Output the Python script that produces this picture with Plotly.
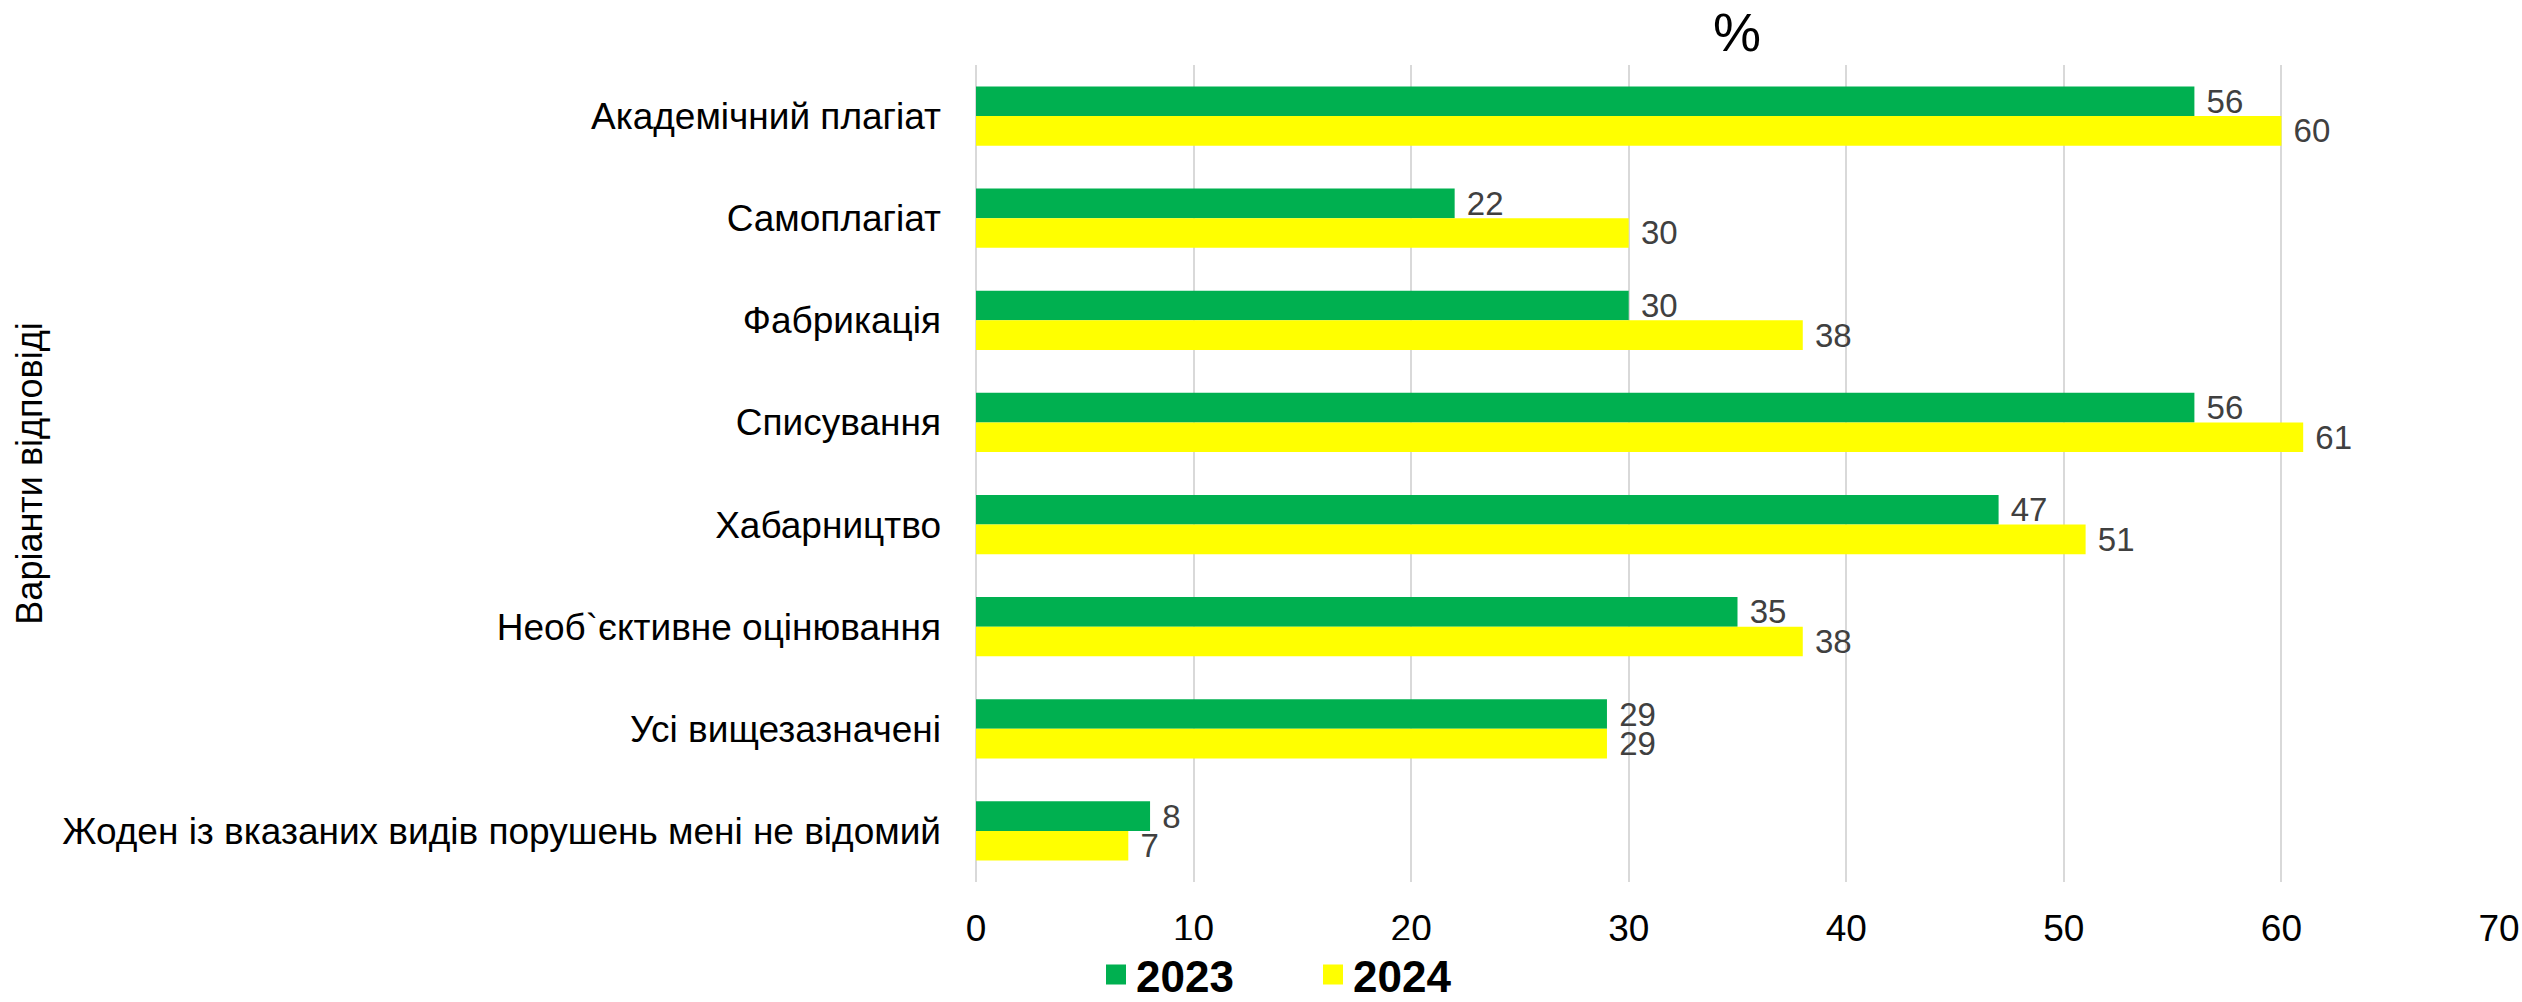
import plotly.graph_objects as go

categories = [
    "Академічний плагіат",
    "Самоплагіат",
    "Фабрикація",
    "Списування",
    "Хабарництво",
    "Необ`єктивне оцінювання",
    "Усі вищезазначені",
    "Жоден із вказаних видів порушень мені не відомий",
]
values_2023 = [56, 22, 30, 56, 47, 35, 29, 8]
values_2024 = [60, 30, 38, 61, 51, 38, 29, 7]
x_ticks = [0, 10, 20, 30, 40, 50, 60, 70]

FONT = "Liberation Sans, Arial, sans-serif"
series = [("2023", values_2023, "#00B050"), ("2024", values_2024, "#FFFF00")]

fig = go.Figure()
for name, vals, color in series:
    fig.add_trace(go.Bar(
        name=name,
        y=categories,
        x=vals,
        orientation="h",
        marker=dict(color=color, line=dict(width=0)),
        texttemplate="\u00a0%{x}",
        textposition="outside",
        constraintext="none",
        textfont=dict(size=33, color="#404040", family=FONT),
        cliponaxis=False,
        showlegend=False,
    ))

# legend entries with bigger square swatches
for name, vals, color in series:
    fig.add_trace(go.Scatter(
        name=name,
        x=[None], y=[None],
        mode="markers",
        marker=dict(symbol="square", size=22, color=color, line=dict(width=4, color=color)),
        showlegend=True,
    ))

fig.update_layout(
    width=2522,
    height=1002,
    margin=dict(l=976, r=23, t=65, b=120, autoexpand=False),
    paper_bgcolor="white",
    plot_bgcolor="white",
    font=dict(family=FONT, color="black"),
    barmode="group",
    bargap=0.42,
    bargroupgap=0,
    title=dict(text="%", x=1737 / 2522, xanchor="center", y=1 - 32 / 1002, yanchor="middle",
               font=dict(size=54, color="black")),
    legend=dict(
        orientation="h",
        xref="container", yref="container",
        x=1096 / 2522, xanchor="left",
        y=1 - 975 / 1002, yanchor="middle",
        font=dict(size=44, color="black", family=FONT, weight="bold"),
        entrywidth=172,
        itemsizing="trace",
        traceorder="normal",
    ),
    showlegend=True,
)
fig.update_xaxes(
    range=[0, 70],
    tickvals=x_ticks,
    tickfont=dict(size=37, color="black"),
    showgrid=True,
    gridcolor="#D9D9D9",
    gridwidth=2,
    zeroline=True,
    zerolinecolor="#D9D9D9",
    zerolinewidth=2,
    showline=False,
    ticklabelstandoff=21,
    automargin=False,
)
fig.update_yaxes(
    autorange="reversed",
    tickfont=dict(size=37, color="black"),
    showgrid=False,
    zeroline=False,
    showline=False,
    ticklabelstandoff=34,
    automargin=False,
    title=dict(text="Варіанти відповіді", font=dict(size=36, color="black"), standoff=8),
)

fig.write_html(
    "out.html",
    config={"displayModeBar": False},
    post_script="document.body.style.margin='0';",
)
